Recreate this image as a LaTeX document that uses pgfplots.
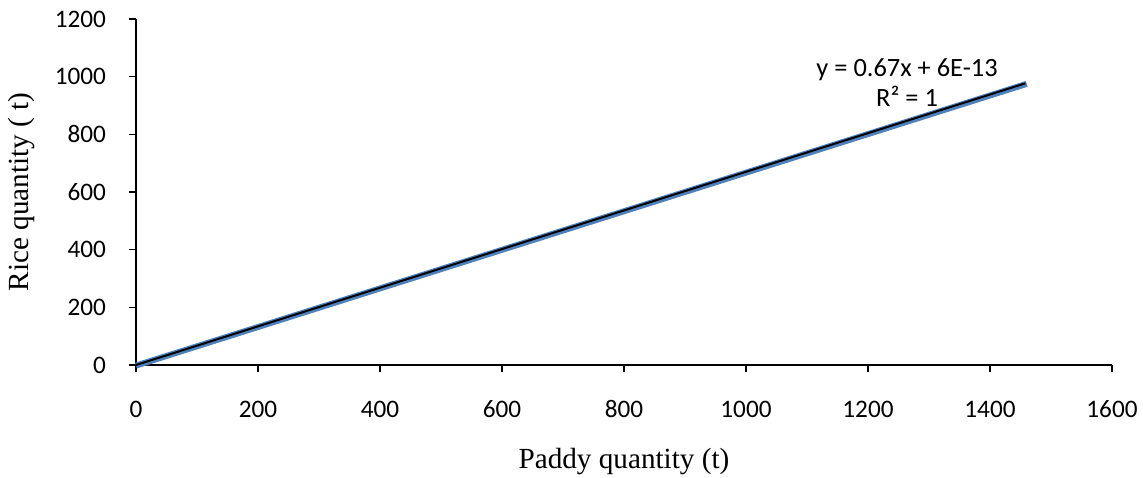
\documentclass[border=0pt]{standalone}
\usepackage{fontspec}
\setmainfont{Carlito}
\newfontfamily\serif{Liberation Serif}
\usepackage{pgfplots}
\pgfplotsset{compat=1.18}
\definecolor{xlblue}{RGB}{79,129,189}

\begin{document}
\begin{tikzpicture}
\useasboundingbox (-68pt,-56pt) rectangle (503.5pt,182.5pt);
\begin{axis}[
  at={(0,0)}, anchor=south west,
  scale only axis, width=488pt, height=173pt,
  xmin=0, xmax=1600, ymin=0, ymax=1200,
  xtick distance=200, ytick distance=200,
  axis lines*=left,
  axis line style={-, line width=0.75pt},
  tick style={black, line width=0.75pt},
  tick align=outside, major tick length=3.5pt,
  tick label style={font=\fontsize{12.6}{14}\selectfont},
  /pgf/number format/assume math mode=true,
  /pgf/number format/1000 sep={},
  xticklabel style={anchor=base, yshift=-22.5pt},
  yticklabel style={anchor=east, xshift=-8pt},
  xlabel={Paddy quantity (t)},
  ylabel={Rice quantity ( t)},
  every axis x label/.style={at={(axis description cs:0.5,-0.2977)}, anchor=base, font=\serif\fontsize{14.6}{16}\selectfont},
  every axis y label/.style={at={(axis description cs:-0.117,0.5)}, anchor=center, rotate=90, font=\serif\fontsize{14.6}{16}\selectfont},
  clip=false
]
\addplot[xlblue, line width=3pt, yshift=-0.3pt] coordinates {(0,0) (1460,977)};
\addplot[black, line width=1pt] coordinates {(0,0) (1458,977)};
\node[anchor=base, font=\fontsize{13.2}{15}\selectfont] at (axis cs:1264,1002) {y = 0.67x + 6E-13};
\node[anchor=base, font=\fontsize{13.2}{15}\selectfont] at (axis cs:1264,895) {R² = 1};
\end{axis}
\end{tikzpicture}
\end{document}
